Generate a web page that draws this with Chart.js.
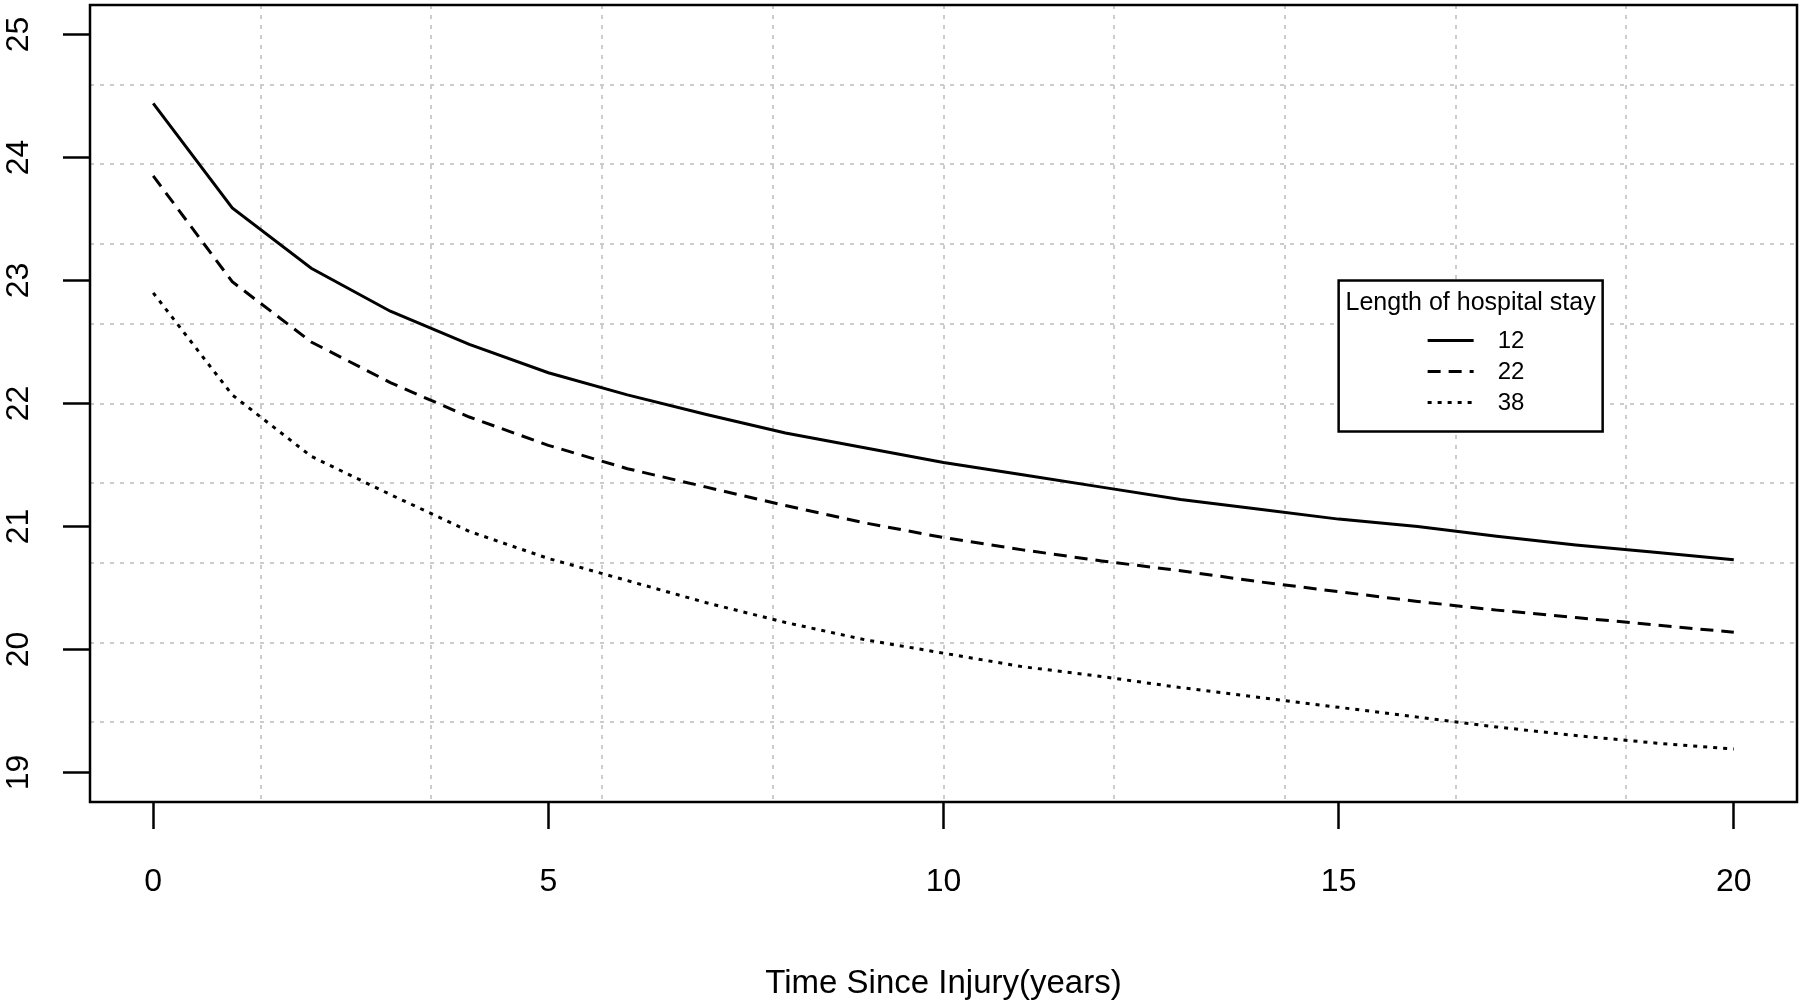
<!DOCTYPE html>
<html>
<head>
<meta charset="utf-8">
<script src="https://cdn.jsdelivr.net/npm/chart.js@4.4.0/dist/chart.umd.min.js"></script>
<style>
  html, body { margin: 0; padding: 0; background: #fff; }
  #chart { display: block; }
</style>
</head>
<body>
<canvas id="chart" width="1800" height="1007"></canvas>
<script>
// Data
const years = [0, 1, 2, 3, 4, 5, 6, 7, 8, 9, 10, 11, 12, 13, 14, 15, 16, 17, 18, 19, 20];
const stay12 = [24.44, 23.59, 23.10, 22.75, 22.48, 22.25, 22.07, 21.91, 21.76, 21.64, 21.52,
                21.42, 21.32, 21.22, 21.14, 21.06, 21.00, 20.92, 20.85, 20.79, 20.73];
const stay22 = [23.85, 22.99, 22.50, 22.17, 21.89, 21.66, 21.47, 21.32, 21.17, 21.03, 20.91,
                20.81, 20.72, 20.64, 20.55, 20.47, 20.39, 20.32, 20.26, 20.20, 20.14];
const stay38 = [22.90, 22.07, 21.57, 21.26, 20.96, 20.74, 20.56, 20.38, 20.22, 20.08, 19.97,
                19.86, 19.78, 19.69, 19.61, 19.53, 19.45, 19.37, 19.30, 19.24, 19.19];
const stayLabels = ['12', '22', '38'];
const legendTitle = 'Length of hospital stay';
const xTitle = 'Time Since Injury(years)';
const xTicks = [0, 5, 10, 15, 20];
const yTicks = [19, 20, 21, 22, 23, 24, 25];
const xRange = [-0.8, 20.8];
const yRange = [18.76, 25.24];
const legendAt = { x: 15, y: 23 };

const FONT = 'Liberation Sans, Arial, Helvetica, sans-serif';
Chart.defaults.font.family = FONT;
Chart.defaults.color = '#000';

const lineStyles = [[], [13, 8], [4, 6]];
const seriesValues = [stay12, stay22, stay38];

// grid(10, 10) style lines, evenly spread over the plot region
function gridValues(range) {
    const out = [];
    for (let k = 1; k < 10; k++) out.push(range[0] + (range[1] - range[0]) * k / 10);
    return out;
}

const gridScale = (axis, position, range) => ({
    type: 'linear',
    position: position,
    min: range[0],
    max: range[1],
    afterBuildTicks: s => { s.ticks = gridValues(range).map(v => ({ value: v })); },
    afterFit: s => {
        if (axis === 'x') s.height = 0; else s.width = 0;
        s.paddingTop = s.paddingBottom = s.paddingLeft = s.paddingRight = 0;
    },
    ticks: { display: false },
    grid: { color: '#cccccc', lineWidth: 2, drawTicks: false },
    border: { display: false, dash: [4, 6] }
});

const boxPlugin = {
    id: 'plotBox',
    afterDatasetsDraw(chart) {
        const { ctx, chartArea: a } = chart;
        ctx.save();
        ctx.strokeStyle = '#000';
        ctx.lineWidth = 2.5;
        ctx.setLineDash([]);
        ctx.strokeRect(a.left, a.top, a.right - a.left, a.bottom - a.top);
        ctx.restore();
    }
};

const legendPlugin = {
    id: 'stayLegend',
    afterDraw(chart) {
        const { ctx } = chart;
        const x0 = chart.scales.x.getPixelForValue(legendAt.x);
        const y0 = chart.scales.y.getPixelForValue(legendAt.y);
        const w = 264, h = 151;
        ctx.save();
        ctx.fillStyle = '#fff';
        ctx.fillRect(x0, y0, w, h);
        ctx.strokeStyle = '#000';
        ctx.lineWidth = 2.5;
        ctx.strokeRect(x0, y0, w, h);

        ctx.fillStyle = '#000';
        ctx.textBaseline = 'middle';
        ctx.textAlign = 'center';
        ctx.font = '25px ' + FONT;
        ctx.fillText(legendTitle, x0 + w / 2, y0 + 23);

        ctx.font = '24px ' + FONT;
        ctx.textAlign = 'left';
        stayLabels.forEach((lab, i) => {
            const yy = y0 + 60 + i * 31;
            ctx.beginPath();
            ctx.lineWidth = 3;
            ctx.setLineDash(lineStyles[i]);
            ctx.moveTo(x0 + 89, yy);
            ctx.lineTo(x0 + 135, yy);
            ctx.stroke();
            ctx.setLineDash([]);
            ctx.fillText(lab, x0 + 159, yy + 1);
        });
        ctx.restore();
    }
};

const ctx = document.getElementById('chart').getContext('2d');
new Chart(ctx, {
    type: 'line',
    data: {
        datasets: seriesValues.map((vals, i) => ({
            label: stayLabels[i],
            data: years.map((t, j) => ({ x: t, y: vals[j] })),
            borderColor: '#000',
            borderWidth: 3,
            borderDash: lineStyles[i],
            pointRadius: 0,
            tension: 0,
            fill: false
        }))
    },
    options: {
        responsive: false,
        animation: false,
        devicePixelRatio: 1,
        layout: { padding: { top: 5, right: 3, left: 0, bottom: 0 } },
        plugins: {
            legend: { display: false },
            tooltip: { enabled: false }
        },
        scales: {
            x: {
                type: 'linear',
                position: 'bottom',
                min: xRange[0],
                max: xRange[1],
                afterBuildTicks: s => { s.ticks = xTicks.map(v => ({ value: v })); },
                afterFit: s => {
                    s.height = 205;
                    s.paddingLeft = s.paddingRight = 0;
                },
                ticks: { font: { size: 32 }, padding: 34, maxRotation: 0, autoSkip: false },
                grid: { drawOnChartArea: false, drawTicks: true, tickLength: 27, tickWidth: 2.5, tickColor: '#000' },
                border: { display: false },
                title: { display: true, text: xTitle, font: { size: 33 }, padding: { top: 0, bottom: 3 } }
            },
            y: {
                type: 'linear',
                position: 'left',
                min: yRange[0],
                max: yRange[1],
                afterBuildTicks: s => { s.ticks = yTicks.map(v => ({ value: v })); },
                afterFit: s => {
                    s.width = 90;
                    s.paddingTop = s.paddingBottom = 0;
                },
                ticks: { font: { size: 32 }, padding: 26, minRotation: 90, maxRotation: 90, crossAlign: 'center', autoSkip: false },
                grid: { drawOnChartArea: false, drawTicks: true, tickLength: 27, tickWidth: 2.5, tickColor: '#000' },
                border: { display: false }
            },
            xg: gridScale('x', 'bottom', xRange),
            yg: gridScale('y', 'left', yRange)
        }
    },
    plugins: [boxPlugin, legendPlugin]
});
</script>
</body>
</html>
